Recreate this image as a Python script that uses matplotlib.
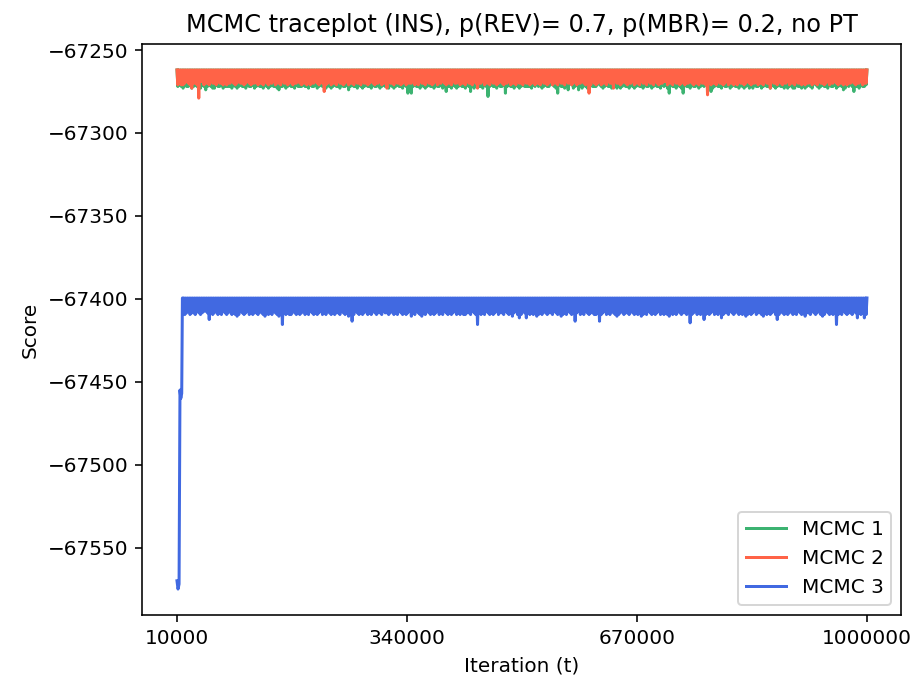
"""MCMC traceplot of three chains (INS), redrawn from the reference figure."""

import numpy as np
import matplotlib

matplotlib.use("Agg")
import matplotlib.pyplot as plt  # noqa: E402

TITLE = "MCMC traceplot (INS), p(REV)= 0.7, p(MBR)= 0.2, no PT"
XLABEL = "Iteration (t)"
YLABEL = "Score"
LABELS = ["MCMC 1", "MCMC 2", "MCMC 3"]
COLORS = ["mediumseagreen", "tomato", "royalblue"]
XTICKS = [10000, 340000, 670000, 1000000]

# recorded iterations (one sample every 2500 steps)
ITER_START, ITER_END, ITER_STEP = 10000, 1000000, 2500

# best score each chain keeps returning to
chain1_top = -67262.0
chain2_top = -67262.0
chain3_top = -67399.5

# typical drop below the top after each sample (base-36 digits, read off the band edge)
chain1_band = (
    "a9ab9aa9ba9aab9aba9aab9aa9ba9aab9aba9aab"
    "9aa9ba9aab9aba9aab9aa9ba9aab9aba9aab9aa9"
    "ba9aab9aba9aab9aa9ba9aab9aba9aab9aa9ba9a"
    "ab9aba9aab9aa9ba9aab9aba9aab9aa9ba9aab9a"
    "ba9aab9aa9ba9aab9aba9aab9aa9ba9aab9aba9a"
    "9aab9a8a9ba9aa89aba9aab9a89ba9aab9aba8aa"
    "a89aba9aab9aa9ba8aab9aba9a8b9aa9ba9aab9a"
    "9ba9aab8aba9aab9aa9ba9a8b9aba9aab9aa9ba9"
    "aab9aba9a8b9aa9ba9aab9aba8aab9aa9ba9aab9"
    "ba9aa89aba9aab9aa9ba9aab9a8a9aab9aa9ba9a"
)
chain2_band = (
    "9899878978898779889788978897988789878898"
    "7898879889789887988978898798878988979887"
    "8978898798897889879889788978898789887988"
    "9788978898798887989788978898798878988978"
    "8798897889789887988978898789887988978897"
    "8898798897889879889788978898798878988978"
    "9879889788978898789887988978897889789887"
    "7988978898798878988978898798897889879889"
    "8978898789887988978897889789887988978898"
    "9887988978898798878988979887898879889789"
)
chain3_band = (
    "9a89a98a99a89a9889a9a98a9a89a98a9a9a89a9"
    "8a9a99a89a98a9a89a9a98a99a89a9a98a9a89a9"
    "a98a9a89a9a99a89a98a9a89a9a98a9a89a99a89"
    "9a98a9a89a9a98a9a89a99a89a9a98a9a89a9a98"
    "a9a89a99a89a98a9a89a9a98a99a89a9a98a9a89"
    "89a9a98a9a89a99a89a98a9a89a9a98a9a89a99a"
    "a89a98a9a89a9a98a99a89a9a98a9a89a9a98a9a"
    "9a98a9a89a99a89a98a9a89a9a98a9a89a99a89a"
    "98a9a89a9a98a99a89a9a98a9a89a9a98a9a89a9"
    "a99a89a98a9a89a9a98a9a89a99a89a9a98a9a89"
)

# deeper excursions: iteration -> drop below the top
chain1_dips = {50000: 12, 60000: 11, 80000: 10, 155000: 12, 185000: 10, 205000: 10,
               230000: 11, 255000: 12, 275000: 11, 340000: 14, 345000: 14, 395000: 13,
               430000: 13, 455000: 16, 480000: 14, 510000: 10, 555000: 14, 570000: 12,
               585000: 12, 640000: 11, 675000: 10, 715000: 14, 735000: 14, 775000: 13,
               830000: 11, 885000: 11, 895000: 11, 920000: 11, 940000: 10, 965000: 12,
               980000: 13}
chain2_dips = {30000: 11, 40000: 17, 220000: 13, 310000: 11, 440000: 11, 600000: 14,
               635000: 11, 770000: 15, 860000: 11}
chain3_dips = {55000: 13, 95000: 11, 135000: 11, 155000: 11, 160000: 16, 170000: 10,
               255000: 11, 260000: 14, 275000: 10, 345000: 11, 360000: 11, 390000: 10,
               420000: 10, 440000: 16, 490000: 11, 500000: 12, 510000: 12, 525000: 11,
               560000: 11, 580000: 14, 615000: 14, 640000: 11, 650000: 10, 675000: 11,
               715000: 11, 745000: 15, 765000: 13, 790000: 12, 825000: 11, 850000: 11,
               870000: 13, 910000: 11, 935000: 11, 955000: 16, 985000: 12, 995000: 12}

# chain 3 burn-in before it reaches its plateau
chain3_burn_iters = [10000, 11500, 13000, 14300, 15500, 16800, 17800]
chain3_burn_scores = [-67570, -67575, -67572, -67455, -67460, -67457, -67399.5]


def build_trace(top, band, dips, start=ITER_START):
    """Alternate between the top score and the recorded drop after each sample."""
    iters = np.arange(ITER_START, ITER_END + 1, ITER_STEP)
    depth = np.array([int(c, 36) for c in band[: len(iters)]], dtype=float)
    for it, d in dips.items():
        depth[(it - ITER_START) // ITER_STEP] = d
    keep = iters >= start
    iters, depth = iters[keep], depth[keep]
    xs = np.empty(2 * len(iters) - 1)
    ys = np.empty(2 * len(iters) - 1)
    xs[0::2] = iters
    xs[1::2] = iters[:-1] + ITER_STEP / 2
    ys[0::2] = top
    ys[1::2] = top - depth[:-1]
    return xs, ys


x1, y1 = build_trace(chain1_top, chain1_band, chain1_dips)
x2, y2 = build_trace(chain2_top, chain2_band, chain2_dips)
x3, y3 = build_trace(chain3_top, chain3_band, chain3_dips, start=20000)
x3 = np.concatenate([chain3_burn_iters, x3])
y3 = np.concatenate([chain3_burn_scores, y3])

fig = plt.figure(figsize=(918 / 144, 681 / 144), dpi=144)
ax = fig.add_axes([0.1552, 0.0969, 0.8268, 0.8385])

for xs, ys, color, label in zip((x1, x2, x3), (y1, y2, y3), COLORS, LABELS):
    ax.plot(xs, ys, color=color, label=label, linewidth=1.5)

ax.set_xticks(XTICKS)
ax.ticklabel_format(axis="x", style="plain", useOffset=False)
ax.set_title(TITLE)
ax.set_xlabel(XLABEL)
ax.set_ylabel(YLABEL)
ax.legend(loc="lower right")

fig.savefig("out.png", dpi=144, facecolor="white")
